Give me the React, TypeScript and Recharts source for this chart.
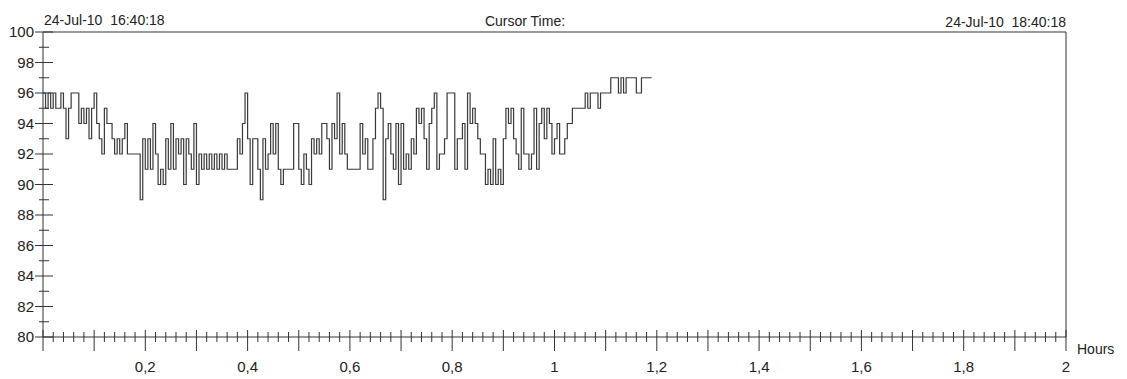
import { LineChart, Line, XAxis, YAxis, ReferenceLine } from 'recharts';

const sampleStepHours = 0.005; // one reading every 18 s

// SpO2 (%), 20 readings per 0.1 h
const trace1 = [ // 0.00 - 0.295 h
  96, 95, 96, 95, 96, 95, 95, 96, 95, 93, 95, 96, 96, 96, 94, 95, 94, 95, 93, 95,
  96, 94, 93, 92, 95, 94, 94, 93, 92, 93, 92, 93, 94, 92, 92, 92, 92, 92, 89, 93,
  91, 93, 91, 94, 92, 90, 91, 90, 93, 91, 94, 91, 93, 92, 93, 90, 93, 92, 91, 94,
];
const trace2 = [ // 0.30 - 0.595 h
  90, 92, 91, 92, 91, 92, 91, 92, 91, 92, 91, 92, 91, 91, 91, 91, 93, 92, 94, 96,
  93, 90, 93, 93, 91, 89, 93, 91, 92, 94, 92, 94, 91, 90, 91, 91, 91, 91, 94, 94,
  91, 90, 92, 91, 90, 93, 92, 93, 92, 94, 94, 93, 91, 94, 93, 96, 92, 94, 92, 91,
];
const trace3 = [ // 0.60 - 0.895 h
  91, 91, 91, 91, 94, 92, 93, 91, 91, 93, 95, 96, 95, 89, 93, 94, 92, 91, 94, 90,
  94, 91, 92, 91, 93, 92, 95, 94, 95, 93, 91, 94, 95, 96, 91, 92, 92, 93, 96, 96,
  96, 91, 93, 93, 94, 91, 96, 94, 95, 94, 93, 92, 92, 90, 91, 90, 93, 90, 91, 90,
];
const trace4 = [ // 0.90 - 1.19 h
  93, 95, 94, 95, 93, 92, 91, 95, 92, 92, 91, 92, 95, 91, 94, 95, 93, 95, 94, 92,
  93, 94, 92, 92, 93, 94, 94, 95, 95, 95, 95, 95, 96, 95, 96, 96, 96, 95, 96, 96,
  96, 96, 97, 97, 97, 96, 97, 96, 97, 97, 97, 97, 96, 96, 97, 97, 97, 97, 97,
];

const yLabelValues = [80, 82, 84, 86, 88, 90, 92, 94, 96, 98, 100];
const xLabelValues = [0.2, 0.4, 0.6, 0.8, 1, 1.2, 1.4, 1.6, 1.8, 2];
const xLabelTexts = ['0,2', '0,4', '0,6', '0,8', '1', '1,2', '1,4', '1,6', '1,8', '2'];

const startTime = '24-Jul-10  16:40:18';
const endTime = '24-Jul-10  18:40:18';

const readings = [...trace1, ...trace2, ...trace3, ...trace4];
const data = readings.map((v, i) => ({ hours: Math.round(i * sampleStepHours * 1000) / 1000, spo2: v }));

const yTicks: number[] = [];
for (let v = 80; v <= 100; v++) yTicks.push(v);
const xTicks: number[] = [];
for (let i = 0; i <= 100; i++) xTicks.push(Math.round(i * 2) / 100);

const ink = '#333';
const font = '"Liberation Sans", Arial, sans-serif';

const YTick = (props: any) => {
  const { x, y, payload } = props;
  const axisX = x + 9;
  const major = yLabelValues.includes(payload.value);
  return (
    <g>
      <line x1={major ? axisX - 8 : axisX - 4} x2={major ? axisX + 10 : axisX + 6} y1={y} y2={y} stroke={ink} strokeWidth={1} />
      {major && (
        <text x={axisX - 9} y={y + 5} textAnchor="end" fontSize={15} fill="#222" fontFamily={font}>
          {payload.value}
        </text>
      )}
    </g>
  );
};

const XTick = (props: any) => {
  const { x, y, payload } = props;
  const axisY = y;
  const idx = Math.round(payload.value * 50);
  const major = idx % 5 === 0;
  const labelIdx = xLabelValues.findIndex((v) => Math.abs(v - payload.value) < 1e-6);
  return (
    <g>
      <line x1={x} x2={x} y1={major ? axisY - 7 : axisY - 5} y2={major ? axisY + 14 : axisY + 5} stroke={ink} strokeWidth={1} />
      {labelIdx >= 0 && (
        <text x={x} y={axisY + 35} textAnchor="middle" fontSize={15} fill="#222" fontFamily={font}>
          {xLabelTexts[labelIdx]}
        </text>
      )}
    </g>
  );
};

export default function App() {
  return (
    <div style={{ position: 'absolute', left: 0, top: 0, width: 1127, height: 379, background: '#fff' }}>
      <LineChart width={1127} height={379} data={data} margin={{ top: 32, right: 61, bottom: 12, left: 0 }}>
        <XAxis
          dataKey="hours"
          type="number"
          domain={[0, 2]}
          ticks={xTicks}
          interval={0}
          height={30}
          tickSize={0}
          tickMargin={0}
          tickLine={false}
          tick={XTick}
          axisLine={{ stroke: ink }}
        />
        <YAxis
          type="number"
          domain={[80, 100]}
          ticks={yTicks}
          interval={0}
          width={43}
          tickSize={0}
          tickMargin={9}
          tickLine={false}
          tick={YTick}
          axisLine={{ stroke: ink }}
        />
        <ReferenceLine y={100} stroke={ink} strokeWidth={1} />
        <ReferenceLine x={2} stroke={ink} strokeWidth={1} />
        <Line
          type="stepAfter"
          dataKey="spo2"
          stroke="#3a3a3a"
          strokeWidth={1.2}
          dot={false}
          isAnimationActive={false}
        />
      </LineChart>
      <svg width={1127} height={379} style={{ position: 'absolute', left: 0, top: 0, pointerEvents: 'none' }}>
        <g fontFamily={font} fontSize={14} fill="#222">
          <text x={44} y={25} style={{ whiteSpace: 'pre' }}>{startTime}</text>
          <text x={525} y={26} textAnchor="middle">Cursor Time:</text>
          <text x={1066} y={27} textAnchor="end" style={{ whiteSpace: 'pre' }}>{endTime}</text>
          <text x={1077} y={354}>Hours</text>
        </g>
      </svg>
    </div>
  );
}
